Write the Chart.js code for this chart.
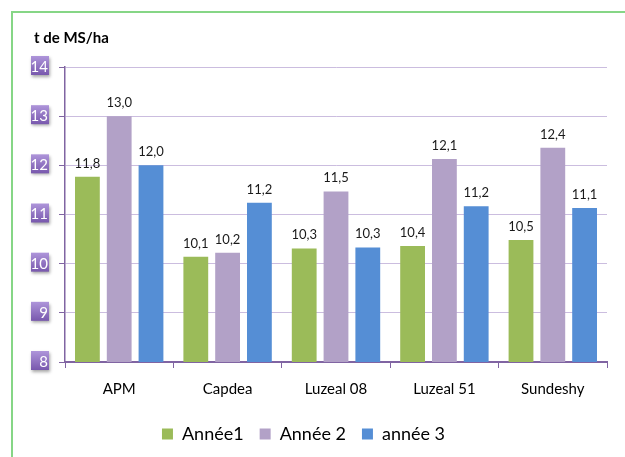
<!DOCTYPE html>
<html>
<head>
<meta charset="utf-8">
<script src="https://cdn.jsdelivr.net/npm/chart.js@4/dist/chart.umd.min.js"></script>
<style>
  html, body { margin:0; padding:0; background:#fff; overflow:hidden; }
  #wrap { position:relative; width:625px; height:457px; }
  #frame { position:absolute; left:11px; top:11px; width:700px; height:600px; border-top:2px solid #86d686; border-left:2px solid #86d686; box-sizing:border-box; }
  #ttl { position:absolute; left:34px; top:28px; font:bold 15px Lato, sans-serif; color:#000; }
  canvas { position:absolute; left:0; top:0; }
</style>
</head>
<body>
<div id="wrap">
  <div id="frame"></div>
  <canvas id="c" width="625" height="457"></canvas>
  <div id="ttl">t de MS/ha</div>
</div>
<script>
const categories = ["APM", "Capdea", "Luzeal 08", "Luzeal 51", "Sundeshy"];
const seriesNames = ["Année1", "Année 2", "année 3"];
const annee1 = [11.77, 10.14, 10.31, 10.36, 10.48];
const annee2 = [13.0, 10.22, 11.47, 12.13, 12.36];
const annee3 = [12.0, 11.24, 10.33, 11.17, 11.13];
const yTicks = [8, 9, 10, 11, 12, 13, 14];

const colors = ["#9BBB59", "#B2A1C7", "#558ED5"];
const AXIS = "#8064A2";

const tickBoxes = {
  id: "tickBoxes",
  beforeDraw(chart) {
    const s = chart.scales.y;
    const ctx = chart.ctx;
    const left = chart.chartArea.left;
    s.ticks.forEach((t, i) => {
      const y = s.getPixelForTick(i);
      const x0 = left - 34, y0 = y - 11, w = 18, h = 19;
      ctx.save();
      ctx.shadowColor = "rgba(0,0,0,0.35)";
      ctx.shadowBlur = 3;
      ctx.shadowOffsetX = 1;
      ctx.shadowOffsetY = 2;
      const g = ctx.createLinearGradient(0, y0, 0, y0 + h);
      g.addColorStop(0, "#AE95DA");
      g.addColorStop(1, "#7858AD");
      ctx.fillStyle = g;
      ctx.fillRect(x0, y0, w, h);
      ctx.restore();
    });
  }
};

const valueLabels = {
  id: "valueLabels",
  afterDatasetsDraw(chart) {
    const ctx = chart.ctx;
    ctx.save();
    ctx.font = "13px Lato, sans-serif";
    ctx.fillStyle = "#1a1a1a";
    ctx.textAlign = "center";
    ctx.textBaseline = "alphabetic";
    chart.data.datasets.forEach((ds, di) => {
      const meta = chart.getDatasetMeta(di);
      meta.data.forEach((el, i) => {
        const txt = ds.data[i].toFixed(1).replace(".", ",");
        ctx.fillText(txt, el.x, el.y - 9);
      });
    });
    ctx.restore();
  }
};

new Chart(document.getElementById("c"), {
  type: "bar",
  data: {
    labels: categories,
    datasets: [
      { label: seriesNames[0], data: annee1, backgroundColor: colors[0] },
      { label: seriesNames[1], data: annee2, backgroundColor: colors[1] },
      { label: seriesNames[2], data: annee3, backgroundColor: colors[2] }
    ]
  },
  options: {
    responsive: false,
    animation: false,
    devicePixelRatio: 1,
    categoryPercentage: 0.88,
    barPercentage: 0.78,
    layout: { padding: { left: 0, right: 18, top: 67, bottom: 4 } },
    plugins: {
      legend: {
        position: "bottom",
        labels: {
          font: { family: "Lato", size: 18 },
          color: "#000",
          boxWidth: 11,
          boxHeight: 11,
          padding: 16
        }
      },
      tooltip: { enabled: false }
    },
    scales: {
      x: {
        border: { color: AXIS, width: 2 },
        grid: { drawOnChartArea: false, drawTicks: true, tickLength: 6, tickColor: AXIS, offset: true },
        ticks: { font: { family: "Lato", size: 15 }, color: "#000", padding: 12 },
        afterFit(scale) { scale.height = 47; }
      },
      y: {
        min: 8, max: 14,
        afterBuildTicks(scale) { scale.ticks = yTicks.map(v => ({ value: v })); },
        border: { color: AXIS, width: 1.5 },
        grid: { color: "#CBBDDF", lineWidth: 1, tickLength: 6, tickColor: AXIS },
        ticks: { font: { family: "Lato", size: 15 }, color: "#fff", padding: 11 },
        afterFit(scale) { scale.width = 65; }
      }
    }
  },
  plugins: [tickBoxes, valueLabels]
});
</script>
</body>
</html>
